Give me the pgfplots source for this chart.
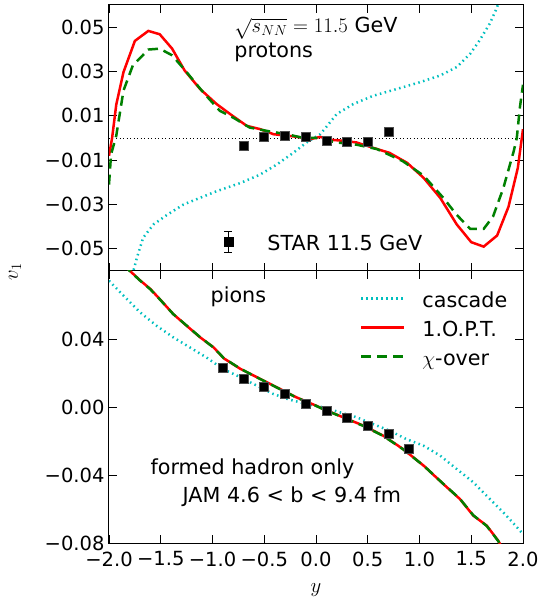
\documentclass[border=0pt]{standalone}
\usepackage[no-math]{fontspec}
\setmainfont{DejaVu Sans}
\usepackage{pgfplots}
\pgfplotsset{compat=1.18}

\definecolor{mplred}{rgb}{1,0,0}
\definecolor{mplgreen}{rgb}{0,0.5,0}
\definecolor{mplcyan}{rgb}{0,0.75,0.75}

\tikzset{txt/.style={anchor=west, inner sep=0pt, font=\fontsize{20.7}{24}\selectfont}}
\pgfplotsset{
  panel/.style={
    scale only axis, width=414pt,
    xmin=-2, xmax=2,
    xtick={-2,-1.5,-1,-0.5,0,0.5,1,1.5,2},
    tick align=inside, xtick pos=both, ytick pos=both,
    major tick length=8pt,
    scaled y ticks=false, scaled x ticks=false,
    every tick/.style={black, line width=0.8pt},
    axis line style={black, line width=1pt},
    tick label style={font=\fontsize{19.5}{22}\selectfont},
    yticklabel style={xshift=-1pt},
    xticklabel style={yshift=-5pt},
  },
  cascade/.style={mplcyan, line width=2.5pt, dash pattern=on 1.5pt off 3.5pt},
  opt/.style={mplred, line width=2.5pt},
  xover/.style={mplgreen, line width=2.5pt, dash pattern=on 10pt off 6pt},
  dat/.style={only marks, mark=square*, mark size=4.5pt,
    mark options={fill=black, draw=black!70, line width=0.6pt}},
}

\begin{document}
\begin{tikzpicture}
\useasboundingbox (-109pt,-61pt) rectangle (431pt,543pt);

% top panel: protons
\begin{axis}[panel, at={(0,272pt)}, height=266pt,
  ymin=-0.06, ymax=0.06,
  ytick={-0.05,-0.03,-0.01,0.01,0.03,0.05},
  yticklabels={−0.05,−0.03,−0.01,0.01,0.03,0.05},
  xticklabels={},
  legend style={draw=none, fill=none, inner sep=0pt, outer sep=0pt,
    at={(axis cs:-1.043,-0.0420)}, anchor=north west, column sep=19pt,
    font=\fontsize{20.7}{24}\selectfont,
    nodes={inner sep=0pt, text height=16pt, text depth=13pt}},
  legend image code/.code={
    \path (-20pt,0pt) (20pt,0pt);
    \draw[black, line width=1pt] (0pt,-3pt) -- (0pt,17.6pt)
      (-4pt,-3pt) -- (4pt,-3pt) (-4pt,17.6pt) -- (4pt,17.6pt);
    \fill[black] (-4.5pt,2.8pt) rectangle (4.5pt,11.8pt);
  },
]
\addplot[black, line width=0.8pt, dash pattern=on 1pt off 2.5pt, forget plot] coordinates {(-2,0) (2,0)};
\addplot[cascade, forget plot] coordinates {
(-1.80,-0.066) (-1.73,-0.054) (-1.67,-0.045) (-1.57,-0.039) (-1.44,-0.0347)
(-1.28,-0.030) (-1.12,-0.027) (-0.96,-0.024) (-0.73,-0.0203) (-0.54,-0.0165)
(-0.38,-0.012) (-0.22,-0.0067) (-0.09,-0.002) (0.04,0.0017) (0.10,0.005)
(0.20,0.0108) (0.36,0.0153) (0.55,0.019) (0.78,0.0221) (1.00,0.0251)
(1.20,0.0282) (1.36,0.032) (1.49,0.038) (1.58,0.044) (1.68,0.0517)
(1.75,0.059) (1.78,0.064)};
\addplot[opt, forget plot] coordinates {
(-2.00,-0.008) (-1.97,0.0) (-1.93,0.015) (-1.86,0.0297) (-1.75,0.0438)
(-1.62,0.0483) (-1.51,0.0468) (-1.39,0.0403) (-1.27,0.0305) (-1.12,0.0221)
(-0.96,0.0153) (-0.83,0.0108) (-0.67,0.0055) (-0.54,0.0040) (-0.41,0.0017)
(-0.25,0.0009) (-0.12,0.0001) (-0.06,-0.0006) (0.04,0.0005) (0.14,-0.0008)
(0.25,-0.0012) (0.39,-0.002) (0.55,-0.0044) (0.71,-0.0067) (0.88,-0.0112)
(1.04,-0.018) (1.20,-0.027) (1.36,-0.039) (1.50,-0.0470) (1.62,-0.0490)
(1.75,-0.0440) (1.86,-0.031) (1.95,-0.0135) (2.00,0.004)};
\addplot[xover, forget plot] coordinates {
(-2.00,-0.021) (-1.98,-0.0074) (-1.93,0.001) (-1.86,0.0214) (-1.77,0.0327)
(-1.62,0.0399) (-1.51,0.0403) (-1.39,0.0373) (-1.25,0.0297) (-1.09,0.0206)
(-0.93,0.0123) (-0.80,0.0092) (-0.64,0.0047) (-0.44,0.0029) (-0.28,0.0017)
(-0.12,0.0) (0.0,0.0) (0.2,-0.002) (0.39,-0.003) (0.59,-0.005)
(0.84,-0.0105) (1.04,-0.017) (1.23,-0.027) (1.36,-0.0347) (1.49,-0.041)
(1.62,-0.041) (1.71,-0.0355) (1.81,-0.0226) (1.91,-0.006) (1.94,0.0)
(1.97,0.0138) (2.00,0.024)};
\addplot[dat, error bars/.cd, y dir=both, y explicit,
  error bar style={black, line width=1pt}] coordinates {
(-0.7,-0.0036) +- (0,0.0008) (-0.5,0.0005) +- (0,0.0008)
(-0.3,0.0009) +- (0,0.0008) (-0.1,0.0005) +- (0,0.0008)
(0.1,-0.0014) +- (0,0.0008) (0.3,-0.0018) +- (0,0.0008)
(0.5,-0.0017) +- (0,0.0008) (0.7,0.0027) +- (0,0.0008)};
\addlegendentry{STAR 11.5 GeV}
\node[txt] at (axis cs:-0.79,0.0495) {$\sqrt{s_{NN}}=11.5$ GeV};
\node[txt] at (axis cs:-0.79,0.0386) {protons};
\end{axis}

% bottom panel: pions
\begin{axis}[panel, at={(0,0)}, height=272pt,
  ymin=-0.08, ymax=0.08,
  ytick={-0.08,-0.04,0,0.04},
  yticklabels={−0.08,−0.04,0.00,0.04},
  xticklabels={−2.0,−1.5,−1.0,−0.5,0.0,0.5,1.0,1.5,2.0},
  legend style={draw=none, fill=none, inner sep=0pt, outer sep=0pt,
    at={(axis cs:0.425,0.0681)}, anchor=north west, column sep=17pt,
    font=\fontsize{20.7}{24}\selectfont, legend cell align=left,
    nodes={inner sep=0pt, text height=16pt, text depth=13pt}},
  legend image code/.code={\draw[#1] (0pt,7pt) -- (43pt,7pt);},
]
\addplot[cascade] coordinates {
(-2.0,0.0743) (-1.86,0.0655) (-1.70,0.0557) (-1.54,0.0478) (-1.38,0.041)
(-1.22,0.0351) (-1.06,0.0292) (-0.90,0.0224) (-0.73,0.0175) (-0.57,0.0125)
(-0.41,0.0076) (-0.25,0.0042) (-0.09,0.0018) (0.07,-0.0002) (0.23,-0.0031)
(0.39,-0.006) (0.55,-0.01) (0.71,-0.0139) (0.87,-0.0188) (1.04,-0.0228)
(1.20,-0.0286) (1.36,-0.0365) (1.52,-0.0443) (1.68,-0.0541) (1.84,-0.0639)
(2.0,-0.0747)};
\addlegendentry{cascade}
\addplot[opt] coordinates {
(-1.86,0.084) (-1.80,0.0802) (-1.70,0.0745) (-1.60,0.0694) (-1.51,0.0635)
(-1.38,0.0547) (-1.25,0.0478) (-1.12,0.041) (-0.99,0.0351) (-0.89,0.0286)
(-0.73,0.0224) (-0.57,0.0175) (-0.38,0.0116) (-0.19,0.0057) (0.0,0.0008)
(0.07,-0.0012) (0.26,-0.006) (0.46,-0.011) (0.65,-0.0169) (0.84,-0.0247)
(1.04,-0.0345) (1.23,-0.0453) (1.39,-0.0541) (1.52,-0.0639) (1.65,-0.0698)
(1.76,-0.0786) (1.80,-0.083)};
\addlegendentry{1.O.P.T.}
\addplot[xover] coordinates {
(-1.86,0.084) (-1.80,0.0800) (-1.70,0.0744) (-1.60,0.0692) (-1.51,0.0634)
(-1.38,0.0547) (-1.25,0.0479) (-1.12,0.0411) (-0.99,0.0350) (-0.89,0.0287)
(-0.73,0.0225) (-0.57,0.0174) (-0.38,0.0115) (-0.19,0.0056) (0.0,0.0007)
(0.07,-0.0013) (0.26,-0.0061) (0.46,-0.0112) (0.65,-0.0170) (0.84,-0.0248)
(1.04,-0.0345) (1.23,-0.0452) (1.39,-0.0540) (1.52,-0.0637) (1.65,-0.0700)
(1.76,-0.0788) (1.80,-0.083)};
\addlegendentry{$\chi$-over}
\addplot[dat, forget plot] coordinates {
(-0.9,0.0229) (-0.7,0.0165) (-0.5,0.0119) (-0.3,0.0076) (-0.1,0.0018)
(0.1,-0.0022) (0.3,-0.0065) (0.5,-0.011) (0.7,-0.0159) (0.9,-0.0243)};
\node[txt] at (axis cs:-1.02,0.0647) {pions};
\node[txt] at (axis cs:-1.60,-0.0365) {formed hadron only};
\node[txt] at (axis cs:-1.29,-0.0525) {JAM 4.6 < b < 9.4 fm};
\end{axis}

\node[rotate=90, font=\fontsize{22}{24}\selectfont] at (-94pt,271pt) {$v_1$};
\node[font=\fontsize{22}{24}\selectfont] at (207pt,-47pt) {$y$};
\end{tikzpicture}
\end{document}
